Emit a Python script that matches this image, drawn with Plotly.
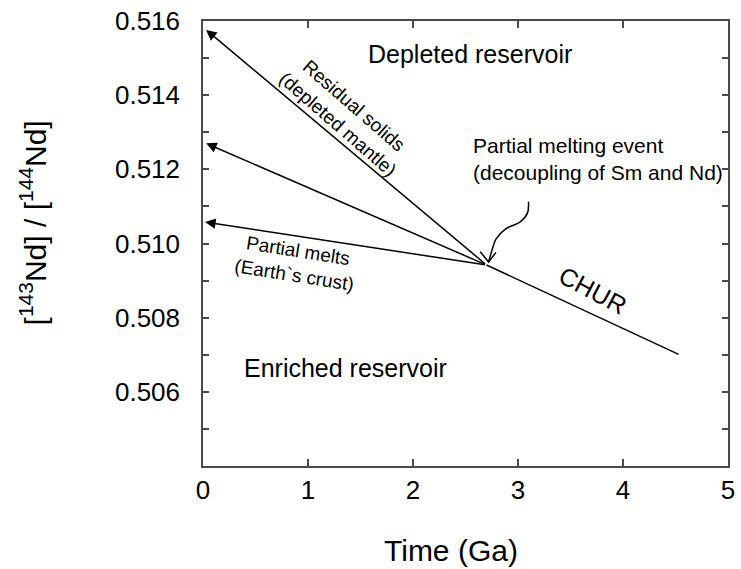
import plotly.graph_objects as go

# Nd isotope evolution: CHUR and the two reservoirs produced by a melting event
event_time = 2.7          # Ga, partial melting event
event_ratio = 0.50942     # 143Nd/144Nd of CHUR at the event

chur_time = [event_time, 4.53]
chur_ratio = [event_ratio, 0.50701]

# present-day end points of the evolution lines that leave the event
branch_time = [0.03, 0.03, 0.02]
branch_ratio = [0.51576, 0.51270, 0.51058]

# curved pointer towards the melting event
pointer_time = [3.10, 3.09, 3.02, 2.88, 2.79, 2.75, 2.72]
pointer_ratio = [0.51113, 0.51082, 0.51058, 0.51039, 0.51012, 0.50980, 0.50950]
pointer_head_time = [2.64, 2.72, 2.79]
pointer_head_ratio = [0.50978, 0.50950, 0.50976]

x_ticks = [0, 1, 2, 3, 4, 5]
y_ticks = [0.505, 0.506, 0.507, 0.508, 0.509, 0.510, 0.511,
           0.512, 0.513, 0.514, 0.515, 0.516]
y_tick_text = ["", "0.506", "", "0.508", "", "0.510", "",
               "0.512", "", "0.514", "", "0.516"]

FONT = "Liberation Sans, Arial, Helvetica, sans-serif"
INK = "black"
FRAME = "#4a4a4a"

fig = go.Figure()

fig.add_trace(go.Scatter(x=chur_time, y=chur_ratio, mode="lines",
                         line=dict(color=INK, width=1.5), hoverinfo="skip"))
fig.add_trace(go.Scatter(x=pointer_time, y=pointer_ratio, mode="lines",
                         line=dict(color=INK, width=1.5, shape="spline"),
                         hoverinfo="skip"))
fig.add_trace(go.Scatter(x=pointer_head_time, y=pointer_head_ratio, mode="lines",
                         line=dict(color=INK, width=1.5), hoverinfo="skip"))

# evolution lines with arrowheads at the present day
for t_end, r_end in zip(branch_time, branch_ratio):
    fig.add_annotation(x=t_end, y=r_end, ax=event_time, ay=event_ratio,
                       xref="x", yref="y", axref="x", ayref="y",
                       text="", showarrow=True, arrowhead=2, arrowsize=1.4,
                       arrowwidth=1.5, arrowcolor=INK)

def label(text, x, y, size, angle=0, xanchor="center", yanchor="middle", align="center"):
    fig.add_annotation(x=x, y=y, xref="x", yref="y", text=text, showarrow=False,
                       textangle=angle, xanchor=xanchor, yanchor=yanchor, align=align,
                       font=dict(family=FONT, size=size, color=INK))

label("Depleted reservoir", 1.55, 0.51511, 25, xanchor="left")
label("Enriched reservoir", 0.376, 0.50663, 25, xanchor="left")
label("Partial melting event<br>(decoupling of Sm and Nd)", 2.556, 0.51227, 21,
      xanchor="left", align="left")
label("CHUR", 3.71, 0.50875, 25, angle=28)
label("Residual solids<br>(depleted mantle)", 1.36, 0.51347, 19, angle=41)
label("Partial melts<br>(Earth`s crust)", 0.883, 0.50948, 19, angle=9)

# axis titles
fig.add_annotation(x=0.472, y=-0.19, xref="paper", yref="paper", text="Time (Ga)",
                   showarrow=False, xanchor="center", yanchor="middle",
                   font=dict(family=FONT, size=30, color=INK))
fig.add_annotation(x=-0.323, y=0.546, xref="paper", yref="paper",
                   text="[<sup>143</sup>Nd] / [<sup>144</sup>Nd]", textangle=-90,
                   showarrow=False, xanchor="center", yanchor="middle",
                   font=dict(family=FONT, size=30, color=INK))

axis_common = dict(showgrid=False, zeroline=False, showline=True, linecolor=FRAME,
                   linewidth=1.5, mirror="ticks", ticks="inside", tickcolor=FRAME,
                   tickwidth=1.5, tickfont=dict(family=FONT, size=26, color=INK))

fig.update_xaxes(range=[0, 5], tickvals=x_ticks, ticktext=[str(v) for v in x_ticks],
                 ticklen=7, ticklabelstandoff=0, **axis_common)
fig.update_yaxes(range=[0.504, 0.516], tickvals=y_ticks, ticktext=y_tick_text,
                 ticklen=6, ticklabelstandoff=16, **axis_common)

fig.update_layout(width=741, height=569, showlegend=False,
                  margin=dict(l=203, r=6, t=19, b=103),
                  paper_bgcolor="white", plot_bgcolor="white")

fig.write_html("out.html")
